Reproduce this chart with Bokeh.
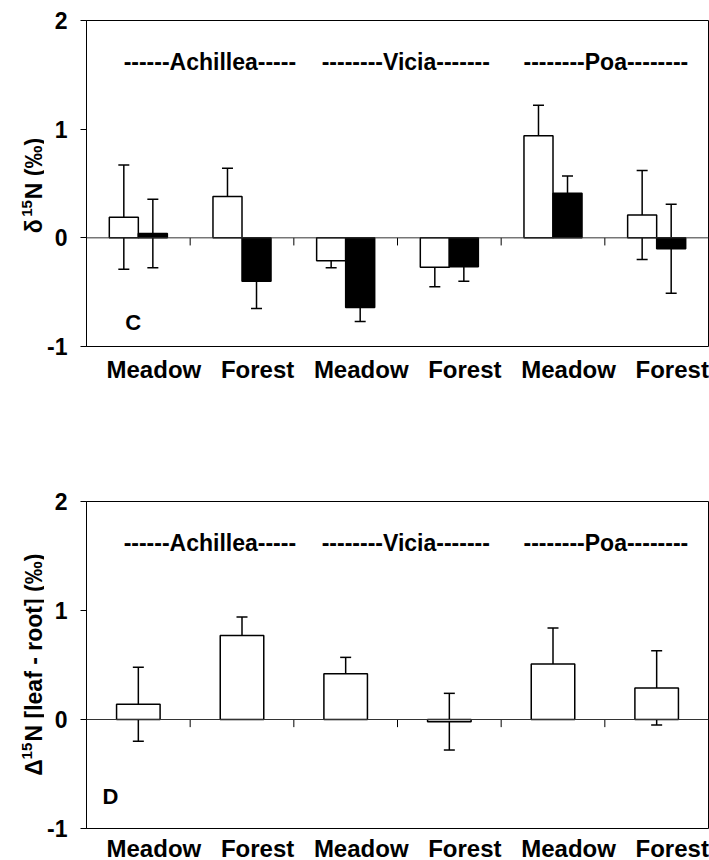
from bokeh.plotting import figure
from bokeh.layouts import column, row
from bokeh.models import (ColumnDataSource, Range1d, FixedTicker, Span, Whisker, TeeHead)
from bokeh.core.properties import value
from bokeh.embed import file_html
from bokeh.resources import INLINE
import math

# ---------------- data ----------------
categories = ["Meadow", "Forest", "Meadow", "Forest", "Meadow", "Forest"]
species = ["------Achillea-----", "--------Vicia-------", "--------Poa--------"]

# panel C: delta 15N, white = leaf, black = root
c_white = [0.19, 0.38, -0.21, -0.27, 0.94, 0.21]
c_white_err = [0.48, 0.26, 0.065, 0.18, 0.28, 0.41]
c_black = [0.04, -0.40, -0.64, -0.265, 0.41, -0.10]
c_black_err = [0.315, 0.25, 0.13, 0.135, 0.16, 0.41]

# panel D: Delta 15N [leaf - root]
d_vals = [0.14, 0.77, 0.42, -0.02, 0.51, 0.29]
d_err = [0.34, 0.17, 0.15, 0.26, 0.33, 0.34]

y_ticks = [-1, 0, 1, 2]
y_tick_labels = {-1: "-1", 0: "0", 1: "1", 2: "2"}

FONT = "Liberation Sans"
LW = 44          # width of the strip that holds the rotated y-axis title
FIG_H = 430
pos = [i + 1 for i in range(len(categories))]
bounds = [p + 0.5 for p in pos[:-1]]


def label_strip(sym, rest, y_sym, y_sup, y_rest):
    # rotated y-axis title built from pieces so the superscript looks right;
    # the strip's frame is aligned with the panel's frame, so it shares its y scale
    s = figure(width=LW, height=FIG_H, min_border=0, x_range=Range1d(0, LW),
               y_range=Range1d(-1, 2), output_backend="svg", toolbar_location=None,
               background_fill_color="white", border_fill_color="white")
    s.axis.visible = False
    s.grid.visible = False
    s.outline_line_color = None
    common = dict(angle=math.pi / 2, text_font=value(FONT), text_font_style="bold",
                  text_color="black", text_align="center", text_baseline="middle")
    s.text(x=[33, 33], y=[y_sym, y_rest], text=[sym, rest], text_font_size="23px", **common)
    s.text(x=[26], y=[y_sup], text=["15"], text_font_size="15px", **common)
    return s


def base_fig(top, frame_h, bottom, label_standoff):
    p = figure(frame_width=622, frame_height=frame_h,
               min_border_left=86 - LW, min_border_right=1,
               min_border_top=top, min_border_bottom=bottom,
               x_range=Range1d(0.5, 6.5), y_range=Range1d(-1, 2),
               output_backend="svg", toolbar_location=None,
               background_fill_color="white", border_fill_color="white")
    p.grid.visible = False
    p.outline_line_color = "black"
    p.outline_line_width = 1
    # y axis
    ya = p.yaxis[0]
    ya.ticker = FixedTicker(ticks=y_ticks)
    ya.major_label_overrides = y_tick_labels
    ya.minor_tick_line_color = None
    ya.major_tick_out = 6
    ya.major_tick_in = 0
    ya.major_label_standoff = 13
    ya.major_label_text_font = FONT
    ya.major_label_text_font_style = "bold"
    ya.major_label_text_font_size = "23px"
    ya.major_label_text_color = "black"
    ya.axis_line_color = "black"
    # x axis (category labels, shifted slightly right as in the original)
    xa = p.xaxis[0]
    xa.ticker = FixedTicker(ticks=[x + 0.15 for x in pos])
    xa.major_label_overrides = {x + 0.15: c for x, c in zip(pos, categories)}
    xa.major_tick_line_color = None
    xa.minor_tick_line_color = None
    xa.axis_line_color = None
    xa.major_label_standoff = label_standoff
    xa.major_label_text_font = FONT
    xa.major_label_text_font_style = "bold"
    xa.major_label_text_font_size = "24px"
    xa.major_label_text_color = "black"
    # zero line and small separator ticks
    p.add_layout(Span(location=0, dimension="width", line_color="#333333", line_width=1))
    p.segment(x0=bounds, y0=[0] * len(bounds), x1=bounds, y1=[-0.07] * len(bounds),
              line_color="black", line_width=1)
    # species labels
    p.text(x=[1.69, 3.58, 5.51], y=[1.62] * 3, text=species,
           text_font=value(FONT), text_font_style="bold", text_font_size="23px",
           text_align="center", text_baseline="middle", text_color="black")
    return p


def whisker(p, xs, vals, errs):
    src = ColumnDataSource(dict(x=xs, lo=[v - e for v, e in zip(vals, errs)],
                                hi=[v + e for v, e in zip(vals, errs)]))
    w = Whisker(source=src, base="x", lower="lo", upper="hi",
                line_color="black", line_width=1.5,
                lower_head=TeeHead(size=11, line_color="black", line_width=1.5),
                upper_head=TeeHead(size=11, line_color="black", line_width=1.5))
    p.add_layout(w)


# ---------------- panel C ----------------
pc = base_fig(20, 326, 84, 3)
bw = 0.28
xw = [x - bw / 2 for x in pos]
xb = [x + bw / 2 for x in pos]
pc.vbar(x=xw, top=c_white, bottom=0, width=bw, fill_color="white",
        line_color="black", line_width=1.5)
pc.vbar(x=xb, top=c_black, bottom=0, width=bw, fill_color="black",
        line_color="black", line_width=1.5)
whisker(pc, xw, c_white, c_white_err)
whisker(pc, xb, c_black, c_black_err)
pc.text(x=[0.95], y=[-0.775], text=["C"], text_font=value(FONT),
        text_font_style="bold", text_font_size="22px", text_align="center",
        text_baseline="middle", text_color="black")
lc = label_strip("δ", "N (‰)", 0.106, 0.271, 0.637)

# ---------------- panel D ----------------
pd_ = base_fig(71, 327, 32, 0)
dw = 0.42
pd_.vbar(x=pos, top=d_vals, bottom=0, width=dw, fill_color="white",
         line_color="black", line_width=1.5)
whisker(pd_, pos, d_vals, d_err)
pd_.text(x=[0.73], y=[-0.71], text=["D"], text_font=value(FONT),
         text_font_style="bold", text_font_size="22px", text_align="center",
         text_baseline="middle", text_color="black")
ld = label_strip("Δ", "N [leaf - root] (‰)", -0.47, -0.318, 0.643)

layout = column(row(lc, pc, spacing=0), row(ld, pd_, spacing=0), spacing=0)
open("out.html", "w").write(file_html(layout, INLINE))
